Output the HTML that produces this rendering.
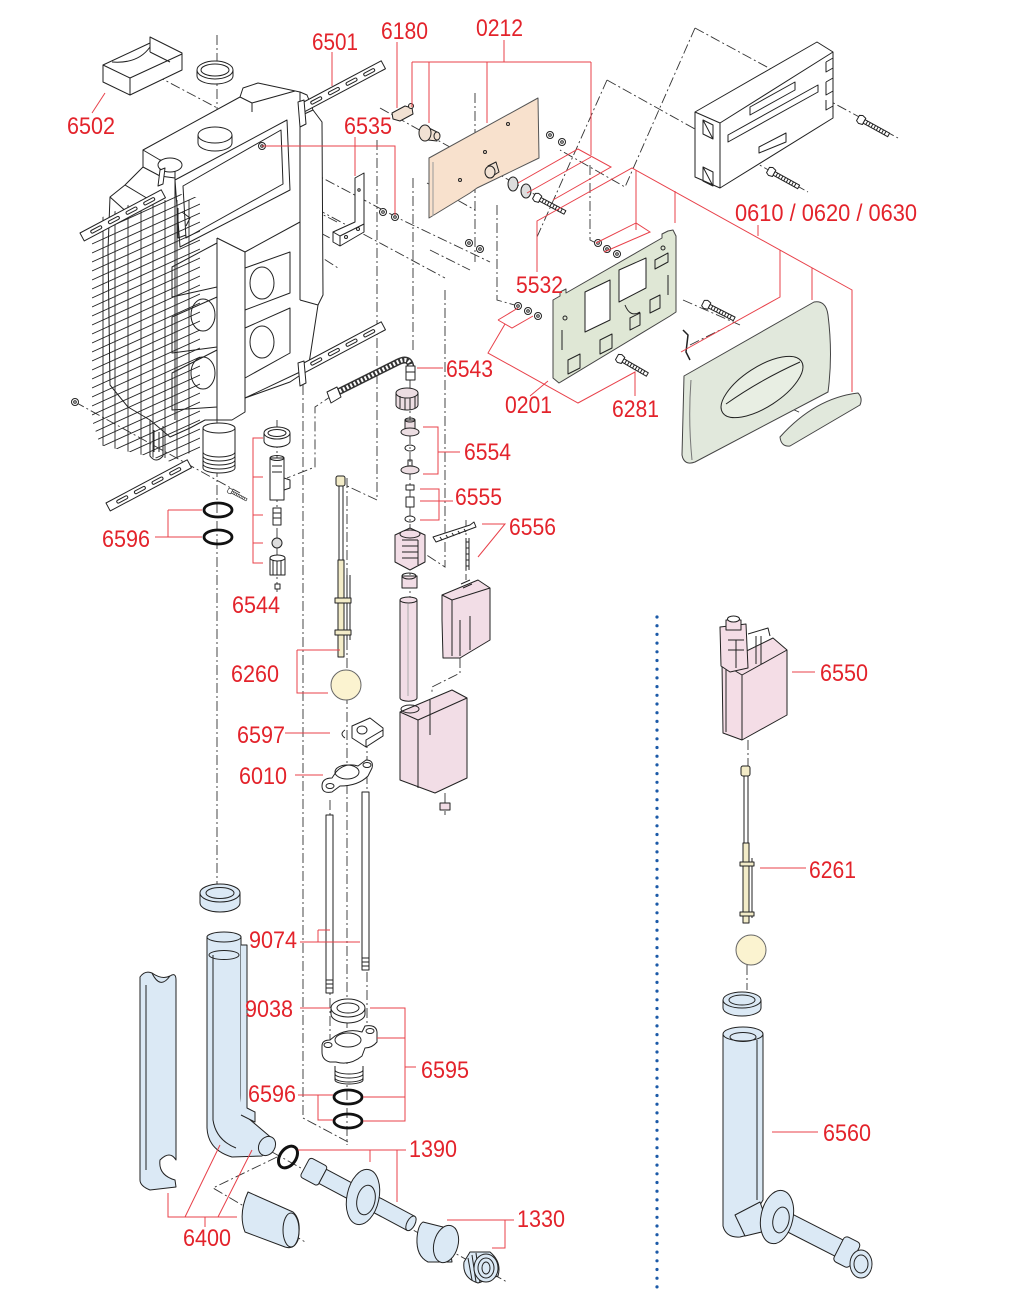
<!DOCTYPE html>
<html><head><meta charset="utf-8"><style>
html,body{margin:0;padding:0;background:#fff;}
svg{display:block;}
text{font-family:"Liberation Sans",sans-serif;font-size:24px;fill:#e3232b;}
</style></head><body>
<svg width="1032" height="1316" viewBox="0 0 1032 1316" xmlns="http://www.w3.org/2000/svg">
<defs>
<clipPath id="hc"><polygon points="92,222 160,190 200,198 200,448 172,462 100,445 92,420"/></clipPath>
<g id="scr"><path d="M0,-3 L3,-4.5 L7,-3.5 L7,3.5 L3,4.5 L0,3 Z" fill="#fff"/><rect x="7" y="-2" width="28" height="4" fill="#fff"/><path d="M10,-2V2M13,-2V2M16,-2V2M19,-2V2M22,-2V2M25,-2V2M28,-2V2M31,-2V2"/></g>
<g id="nut"><circle r="3.5" fill="#fff"/><circle r="1.3" fill="none"/></g>
<g id="strap"><rect x="0" y="0" width="92" height="9" fill="#fff"/><rect x="10" y="3" width="12" height="3" rx="1.5" fill="none"/><rect x="30" y="3" width="12" height="3" rx="1.5" fill="none"/><rect x="50" y="3" width="12" height="3" rx="1.5" fill="none"/><rect x="70" y="3" width="12" height="3" rx="1.5" fill="none"/></g>
</defs>

<!-- dash-dot construction lines -->
<g fill="none" stroke="#333" stroke-width="0.9" stroke-dasharray="10 3 2 3">
<path d="M217,35 V888"/>
<path d="M303,205 V1118 L348,1142"/>
<path d="M347,478 V1145"/>
<path d="M377,140 V500 L345,485"/>
<path d="M413,178 V352"/>
<path d="M445,290 V567 L422,552"/>
<path d="M277,420 V595"/>
<path d="M410,380 V600"/>
<path d="M330,800 V1045"/>
<path d="M367,720 V1030"/>
<path d="M475,93 V262"/>
<path d="M497,205 V300 L518,306"/>
<path d="M590,165 V240 L596,243"/>
<path d="M466,520 V580 M460,658 V673 L432,687 V693 M445,793 V815"/>
<path d="M333,395 L315,407 V467 L287,478"/>
<path d="M277,1157 L213,1188 L307,1243"/>
<path d="M272,1152 L507,1282"/>
<path d="M155,75 L240,120"/>
<path d="M262,146 L400,219 L490,262"/>
<path d="M380,108 L568,213"/>
<path d="M300,200 L445,278"/>
<path d="M273,208 L330,238"/>
<path d="M75,402 L240,493"/>
<path d="M607,80 L808,192"/>
<path d="M695,28 L898,138"/>
<path d="M695,28 L625,187 L560,150"/>
<path d="M607,80 L537,237"/>
<path d="M337,222 L310,208 V250 L338,268"/>
<path d="M195,160 V197 L240,222"/>
<path d="M427,183 L475,210 M430,250 L470,270"/>
<path d="M683,300 L740,325 M690,345 L720,330"/>
<path d="M790,408 L801,413"/>
<path d="M748,740 V770 M747,965 V990"/>
</g>

<!-- TANK -->
<g stroke="#222" stroke-width="1" fill="none" stroke-linejoin="round">
<path fill="#fff" d="M143,150 L240,97 L243,88 L258,83 L300,92 L307,95 L313,110 L322,122 L323,295 L318,305 L308,370 L290,382 L245,398 L245,412 L232,420 L205,420 L190,428 L170,437 L150,420 L128,407 L110,385 L108,250 L110,197 L125,185 L143,167 Z"/>
<path d="M143,150 L160,160 L175,160 M143,167 L160,176 L175,178 M175,160 V420 M160,160 V176"/>
<path d="M240,97 L252,103 L295,91 M252,103 V112 M300,92 V300 M313,110 L300,116"/>
<path d="M175,180 L287,120 L290,190 L180,247 Z M183,186 L281,130 L283,184 L186,238 Z"/>
<ellipse cx="215" cy="135" rx="17" ry="8" fill="#fff"/>
<path d="M198,135 V143 A17,8 0 0 0 232,143 V135"/>
<ellipse cx="170" cy="165" rx="12" ry="7" fill="#fff"/>
<path d="M217,238 V420 M245,252 V398 M245,252 L300,222 M217,238 L245,252 M300,300 L318,305 M245,398 L300,372"/>
<path d="M245,268 L290,252 L290,293 L245,310 Z M245,328 L290,308 L290,353 L245,378 Z"/>
<ellipse cx="262" cy="283" rx="12" ry="16"/>
<ellipse cx="262" cy="342" rx="12" ry="16"/>
<path d="M172,267 L217,243 L217,287 L172,297 Z M172,317 L217,297 L217,347 L172,353 Z M172,373 L217,350 L217,407 L172,410 Z"/>
<ellipse cx="203" cy="315" rx="12" ry="16"/>
<ellipse cx="203" cy="373" rx="12" ry="16"/>
<path d="M178,208 V238 L186,235 M182,212 L190,218 L186,226"/>
<path d="M150,420 V456 Q156,464 163,456 V426 M154,430 V452 M159,432 V452"/>
<path d="M125,185 L150,200 M110,197 L130,215"/>
<!-- outlet -->
<path fill="#fff" d="M203,428 V468 A16,5 0 0 0 235,468 V428"/>
<ellipse cx="219" cy="428" rx="16" ry="5" fill="#fff"/>
<path d="M203,452 A16,5 0 0 0 235,452 M203,456 A16,5 0 0 0 235,456 M203,460 A16,5 0 0 0 235,460 M203,464 A16,5 0 0 0 235,464"/>
</g>
<g clip-path="url(#hc)" stroke="#222" stroke-width="0.9" fill="none">
<path d="M92,235L200,186M92,244L200,195M92,253L200,204M92,262L200,213M92,271L200,222M92,280L200,231M92,289L200,240M92,298L200,249M92,307L200,258M92,316L200,267M92,325L200,276M92,334L200,285M92,343L200,294M92,352L200,303M92,361L200,312M92,370L200,321M92,379L200,330M92,388L200,339M92,397L200,348M92,406L200,357M92,415L200,366M92,424L200,375M92,433L200,384M92,442L200,393M92,451L200,402M92,460L200,411M92,469L200,420M92,478L200,429M92,487L200,438M92,496L200,447M92,505L200,456M92,514L200,465"/>
<path d="M103,200V458M115,200V458M128,200V458M141,200V458M153,200V458M165,200V458M177,200V458M189,200V458"/>
</g>

<g stroke="#222" stroke-width="1" fill="none" stroke-linejoin="round">
<!-- straps -->
<use href="#strap" transform="translate(300,104) rotate(-28)"/>
<path fill="#fff" d="M298,102 L304,100 L306,124 L300,127 Z"/>
<use href="#strap" transform="translate(80,233) rotate(-28)"/>
<path fill="#fff" d="M158,186 L163,184 L165,168 L160,170 Z"/>
<use href="#strap" transform="translate(300,365) rotate(-28)"/>
<path fill="#fff" d="M298,363 L304,361 L306,383 L300,386 Z"/>
<use href="#strap" transform="translate(106,503) rotate(-28)"/>
<use href="#nut" transform="translate(75,402)"/>
<use href="#scr" transform="translate(228,490) rotate(28) scale(0.6)"/>

<!-- 6502 bracket -->
<path fill="#fff" d="M103,65 L150,43 L150,37 L182,53 L182,70 L130,95 L103,82 Z"/>
<path d="M103,65 L130,78 V95 M130,78 L182,54 M112,62 Q138,64 150,47 M150,43 V52 M150,52 L170,62"/>

<!-- top ring -->
<path fill="#fff" d="M197,70 V76 A18,8 0 0 0 233,76 V70"/>
<ellipse cx="215" cy="70" rx="18" ry="9" fill="#fff"/>
<ellipse cx="215" cy="70" rx="14" ry="6"/>

<!-- 6180 -->
<path fill="#f1e1d3" d="M392,113 L405,106 L412,108 L413,114 L400,121 L393,119 Z"/>
<circle cx="411" cy="106" r="2.5" fill="#f1e1d3"/>
<!-- 0212 washer -->
<path fill="#f1e1d3" d="M427,127 L437,132 V141 L428,140 Z"/>
<ellipse cx="425" cy="133" rx="6" ry="8" fill="#f1e1d3"/>
<ellipse cx="437" cy="136" rx="3" ry="4" fill="#f1e1d3"/>
<!-- pink plate -->
<path fill="#f8e1cd" stroke="#555" d="M429,158 L538,98 L539,158 L477,188 L470,193 L429,218 Z"/>
<path d="M433,162 V216" stroke="#999"/>
<circle cx="508" cy="124" r="1.5"/><circle cx="460" cy="180" r="1.5"/><circle cx="485" cy="152" r="1.5"/>
<path fill="#f1e1d3" d="M488,166 L496,162 L499,172 L491,177 Z"/>
<ellipse cx="490" cy="172" rx="5" ry="6" fill="#f1e1d3"/>
<ellipse cx="513" cy="184" rx="5" ry="7" fill="#ddd"/>
<ellipse cx="526" cy="191" rx="5" ry="7" fill="#ddd"/>
<use href="#scr" transform="translate(534,196) rotate(28)"/>
<use href="#nut" transform="translate(550,135)"/><use href="#nut" transform="translate(562,142)"/>
<use href="#nut" transform="translate(469,243)"/><use href="#nut" transform="translate(480,249)"/>
<use href="#nut" transform="translate(383,212)"/><use href="#nut" transform="translate(395,217)"/>
<use href="#nut" transform="translate(598,243)"/><use href="#nut" transform="translate(607,249)"/><use href="#nut" transform="translate(617,254)"/>
<use href="#nut" transform="translate(518,306)"/><use href="#nut" transform="translate(528,311)"/><use href="#nut" transform="translate(538,316)"/>
<use href="#nut" transform="translate(262,146)"/>

<!-- 6535 bracket -->
<path fill="#fff" d="M355,178 L364,173 V232 L340,246 L333,242 V232 L355,222 Z"/>
<path d="M355,178 V222 M340,246 V236 L364,224 M333,232 L340,236"/>
<circle cx="346" cy="237" r="1.5"/><circle cx="358" cy="229" r="1.5"/><circle cx="359" cy="190" r="1.2"/>

<!-- box top right -->
<path fill="#fff" d="M695,112 L817,42 L833,52 L833,118 L720,188 L695,177 Z"/>
<path d="M695,112 L720,123 L833,52 M720,123 V188"/>
<path d="M703,120 L713,125 V139 L703,134 Z M703,120 L713,139 M703,167 L713,172 V186 L703,181 Z M703,167 L713,186"/>
<path d="M750,107 L795,82 V90 L750,115 Z M728,135 L818,85 V92 L728,142 Z M759,147 L786,133 V142 L759,153 Z"/>
<path d="M826,62 L833,58 M826,62 V72 L833,68 M826,82 L833,78 M826,82 V95 L833,91 M826,100 V110 L833,106"/>
<use href="#scr" transform="translate(858,118) rotate(29)"/>
<use href="#scr" transform="translate(768,170) rotate(29)"/>

<!-- 0201 green plate -->
<path fill="#dfe7d5" stroke="#444" d="M553,300 L560,296 V292 L566,289 V293 L662,238 V234 L668,231 L673,230 L676,236 V312 L670,316 L559,383 L553,378 Z"/>
<path fill="#fff" d="M585,292 L610,280 V320 L585,332 Z M619,270 L646,258 V288 L619,302 Z"/>
<path d="M600,340 L612,334 V348 L600,354 Z M630,318 L640,313 V325 L630,330 Z M650,300 L660,295 V308 L650,313 Z M568,360 L580,354 V368 L568,374 Z M562,330 V350 M655,260 L668,253 V262 L655,269 Z M668,275 V295 M625,305 Q630,318 640,312"/>
<circle cx="565" cy="318" r="2"/><circle cx="663" cy="248" r="2"/>

<!-- flush plate -->
<path fill="#e1e8dc" stroke="#444" d="M684,376 L814,302 Q826,300 828,315 Q833,355 828,392 L695,462 Q684,466 682,455 Z"/>
<path d="M691,380 Q688,420 692,460" stroke="#777"/>
<ellipse cx="762" cy="387" rx="47" ry="20" transform="rotate(-33 762 387)" fill="#e8eee3"/>
<path d="M726,404 Q760,380 800,362"/>
<path fill="#e1e8dc" stroke="#444" d="M780,437 Q815,398 858,393 Q863,398 860,405 L790,446 Q781,447 780,437 Z"/>
<path d="M683,330 L688,335 L686,352 L690,360" stroke-width="1.5"/>
<use href="#scr" transform="translate(703,303) rotate(27)"/>
<use href="#scr" transform="translate(617,357) rotate(30)"/>

<!-- hose 6543 -->
<path d="M336,393 L398,362 Q410,356 411,368" stroke="#333" stroke-width="7"/>
<path d="M336,393 L398,362 Q410,356 411,368" stroke="#fff" stroke-width="4" stroke-dasharray="2 2"/>
<path fill="#fff" d="M327,392 L337,387 L341,397 L331,403 Z"/>
<path fill="#fff" d="M406,366 H415 V380 H406 Z M406,372 H415"/>
<!-- nut -->
<path fill="#ecdde2" d="M396,393 V405 A11,5 0 0 0 418,405 V393"/>
<ellipse cx="407" cy="393" rx="11" ry="5" fill="#ecdde2"/>
<path d="M400,396 V408 M405,398 V410 M410,398 V410 M415,396 V408"/>
<!-- 6554 -->
<path fill="#ecdde2" d="M405,420 H415 V430 H405 Z"/>
<ellipse cx="410" cy="432" rx="9" ry="4" fill="#ecdde2"/>
<ellipse cx="410" cy="420" rx="5" ry="2"/>
<ellipse cx="410" cy="448" rx="5" ry="3"/>
<path d="M408,460 H412 V468 H408 Z"/>
<ellipse cx="410" cy="470" rx="9" ry="4" fill="#ecdde2"/>
<!-- 6555 -->
<rect x="406" y="485" width="8" height="5" fill="#fff"/>
<path fill="#fff" d="M406,497 H414 V507 H406 Z"/>
<ellipse cx="410" cy="519" rx="5" ry="3"/>
<!-- valve body -->
<path fill="#f2dde6" d="M395,535 L410,528 L425,535 V562 L410,570 L395,562 Z"/>
<ellipse cx="410" cy="534" rx="10" ry="4" fill="#f2dde6"/>
<path d="M402,540 H418 M402,546 H418 M402,552 H418 M402,558 H418 M418,540 V565"/>
<path fill="#fff" d="M433,537 L470,525 L474,522 L476,527 L436,542 Z"/>
<path d="M440,537 L442,540 M446,535 L448,538 M452,533 L454,536 M458,531 L460,534 M464,529 L466,532"/>
<path d="M466,538 V570 M469,538 V570 M466,542 H469 M466,548 H469 M466,554 H469 M466,560 H469 M466,566 H469"/>
<path fill="#f2dde6" d="M402,576 H417 V588 H402 Z"/>
<ellipse cx="409" cy="576" rx="7" ry="3"/>
<!-- tube -->
<path fill="#f2dde6" d="M400,600 V698 A8,3 0 0 0 417,698 V600"/>
<ellipse cx="408.5" cy="600" rx="8.5" ry="3" fill="#f2dde6"/>
<path d="M408,604 V696" stroke="#aaa"/>
<!-- upper pink box -->
<path fill="#f2dde6" d="M442,595 L478,580 L490,588 V640 L460,658 L443,658 L442,620 Z"/>
<path d="M442,595 L452,600 L490,588 M452,600 V656 M460,620 V656 M470,616 V650"/>
<path d="M461,584 L470,580 M463,588 L472,584"/>
<!-- lower pink box -->
<path fill="#f2dde6" d="M400,712 L452,690 L467,698 V778 L435,793 L400,780 Z"/>
<path d="M400,712 L418,720 L467,698 M418,720 V788 M430,700 V735"/>
<ellipse cx="410" cy="709" rx="9" ry="4"/>
<path fill="#f2dde6" d="M440,803 L450,803 L450,810 L440,810 Z"/>

<!-- 6544 -->
<path fill="#fff" d="M264,433 V441 A13,6 0 0 0 290,441 V433"/>
<ellipse cx="277" cy="433" rx="13" ry="6" fill="#fff"/>
<ellipse cx="277" cy="433" rx="9" ry="3.5"/>
<path fill="#fff" d="M270,458 H284 V500 H270 Z"/>
<ellipse cx="277" cy="458" rx="7" ry="2.5"/>
<path fill="#fff" d="M284,478 L290,480 V488 L284,490 Z"/>
<path d="M272,466 H282 M272,472 H282"/>
<path fill="#fff" d="M273,508 H281 V525 H273 Z M273,513 H281 M273,518 H281"/>
<ellipse cx="277" cy="543" rx="5" ry="5" fill="#ddd"/>
<path fill="#fff" d="M270,558 H285 V575 H270 Z M273,558 V575 M277,558 V575 M281,558 V575"/>
<ellipse cx="277.5" cy="558" rx="7.5" ry="3" fill="#fff"/>
<rect x="275" y="584" width="5" height="5" fill="#fff"/>
<ellipse cx="218" cy="510" rx="14" ry="7" stroke="#111" stroke-width="2.8"/>
<ellipse cx="218" cy="537" rx="14" ry="7" stroke="#111" stroke-width="2.8"/>

<!-- 6260 rod -->
<rect x="336" y="476" width="9" height="10" rx="2" fill="#f3ecc8"/>
<path d="M339,486 V560 M343,486 V560"/>
<rect x="338" y="560" width="6" height="97" fill="#f3ecc8"/>
<path d="M347,575 V640 M350,575 V640"/>
<rect x="335" y="598" width="16" height="5" fill="#f3ecc8"/>
<rect x="335" y="630" width="16" height="5" fill="#f3ecc8"/>
<circle cx="346" cy="685" r="15" fill="#fbf3d0" stroke="#666"/>
<!-- 6597 -->
<path fill="#fff" d="M352,726 L370,718 L383,728 V736 L366,747 L352,738 Z"/>
<ellipse cx="362" cy="730" rx="5" ry="4"/>
<path d="M345,730 Q339,734 345,738 M366,747 V740 L383,730"/>
<!-- 6010 -->
<path fill="#fff" d="M322,786 Q322,778 332,778 L336,772 Q345,762 358,766 L366,760 Q374,760 372,768 L368,776 Q358,786 340,786 L332,792 Q322,794 322,786 Z"/>
<ellipse cx="347" cy="772" rx="12" ry="7"/>
<ellipse cx="330" cy="786" rx="4" ry="2.5"/>
<ellipse cx="367" cy="765" rx="4" ry="2.5"/>
<!-- 9074 -->
<path fill="#fff" d="M326,815 H333 V993 H326 Z M362,792 H369 V970 H362 Z"/>
<path d="M326,980 H333 M326,984 H333 M326,988 H333 M362,958 H369 M362,962 H369 M362,966 H369"/>
<!-- 9038 -->
<path fill="#fff" d="M331,1008 V1014 A17,9 0 0 0 365,1014 V1008"/>
<ellipse cx="348" cy="1008" rx="17" ry="9" fill="#fff"/>
<ellipse cx="348" cy="1008" rx="11" ry="5"/>
<!-- 6595 -->
<path fill="#fff" d="M335,1066 V1080 A14,4 0 0 0 363,1080 V1066"/>
<path d="M335,1070 A14,4 0 0 0 363,1070 M335,1074 A14,4 0 0 0 363,1074 M335,1078 A14,4 0 0 0 363,1078"/>
<path fill="#fff" d="M322,1046 Q322,1040 330,1040 L335,1036 Q348,1028 362,1032 L365,1026 Q376,1024 377,1032 L377,1042 Q372,1048 365,1048 L362,1056 Q350,1066 336,1062 L330,1062 Q322,1060 322,1052 Z"/>
<ellipse cx="348" cy="1040" rx="13" ry="7"/>
<ellipse cx="328" cy="1045" rx="4" ry="2.5"/>
<ellipse cx="370" cy="1031" rx="4" ry="2.5"/>
<ellipse cx="348" cy="1097" rx="14" ry="7" stroke="#111" stroke-width="2.8"/>
<ellipse cx="348" cy="1121" rx="14" ry="7" stroke="#111" stroke-width="2.8"/>

<!-- 6400 -->
<path fill="#dbe9f5" d="M200,893 V903 A20,9 0 0 0 240,903 V893"/>
<ellipse cx="220" cy="893" rx="20" ry="9" fill="#dbe9f5"/>
<ellipse cx="220" cy="893" rx="14" ry="5.5"/>
<path fill="#dbe9f5" d="M207,937 V1128 Q208,1150 232,1157 L262,1156 L274,1140 L248,1118 Q241,1110 241,1095 V937 Z"/>
<path fill="#dbe9f5" d="M241,945 H247 V1108 L255,1112 V1122 L241,1115"/>
<ellipse cx="224" cy="937" rx="17" ry="5" fill="#dbe9f5"/>
<ellipse cx="224" cy="955" rx="15" ry="4.5"/>
<path d="M213,955 V1120 Q216,1140 236,1148"/>
<ellipse cx="267" cy="1146" rx="8" ry="10" transform="rotate(30 267 1146)" fill="#dbe9f5"/>
<path fill="#dbe9f5" d="M140,977 Q145,970 152,973 Q162,980 170,976 Q176,972 176,980 V1160 Q170,1150 160,1160 Q158,1175 175,1180 L176,1187 L150,1190 Q140,1186 140,1180 Z"/>
<path d="M152,973 Q160,990 170,976 M146,985 V1170"/>
<path fill="#dbe9f5" d="M248,1192 L293,1212 Q302,1220 298,1240 Q294,1250 285,1247 L245,1232 Q238,1214 248,1192 Z"/>
<ellipse cx="291" cy="1230" rx="8" ry="17" fill="#dbe9f5"/>
<ellipse cx="288" cy="1157" rx="8" ry="12" transform="rotate(35 288 1157)" stroke="#111" stroke-width="3"/>
<!-- 1390 pipe -->
<g transform="translate(305,1167) rotate(28)">
<rect x="0" y="-11" width="20" height="22" rx="3" fill="#dbe9f5"/>
<rect x="20" y="-8" width="100" height="16" fill="#dbe9f5"/>
<ellipse cx="120" cy="0" rx="4" ry="8" fill="#dbe9f5"/>
</g>
<ellipse cx="363" cy="1197" rx="16" ry="28" transform="rotate(12 363 1197)" fill="#dbe9f5"/>
<ellipse cx="366" cy="1200" rx="9" ry="15" transform="rotate(12 366 1200)"/>
<!-- 1330 -->
<path fill="#dbe9f5" d="M423,1222 L447,1228 L452,1262 L428,1262 Q416,1256 417,1238 Q418,1225 423,1222 Z"/>
<ellipse cx="446" cy="1244" rx="12" ry="19" transform="rotate(15 446 1244)" fill="#dbe9f5"/>
<path fill="#dbe9f5" d="M470,1252 L490,1252 Q502,1262 498,1276 L478,1283 Q462,1278 464,1262 Z"/>
<path d="M468,1258 L472,1280 M472,1255 L476,1282 M476,1253 L480,1283"/>
<ellipse cx="486" cy="1268" rx="12" ry="14" fill="#dbe9f5"/>
<ellipse cx="486" cy="1268" rx="8" ry="10"/>
<ellipse cx="486" cy="1268" rx="4" ry="6"/>

<!-- right panel: 6550 -->
<path fill="#f4dde6" d="M722,663 L773,638 L787,650 V715 L742,740 L723,733 Z"/>
<path d="M722,663 L742,675 L787,650 M742,675 V740 M726,668 V732"/>
<path fill="#f4dde6" d="M720,627 L746,624 L748,668 L730,672 L721,666 Z"/>
<path fill="#f4dde6" d="M726,620 H741 V630 H726 Z"/>
<ellipse cx="733.5" cy="619" rx="6" ry="3" fill="#fff"/>
<path d="M728,640 H744 M728,650 H744 M736,640 V668"/>
<path d="M748,634 L768,628 L770,636 M756,636 V664 M761,636 V664"/>
<!-- 6261 -->
<rect x="741" y="766" width="9" height="10" rx="2" fill="#f3ecc8"/>
<path d="M744,776 V843 M748,776 V843"/>
<rect x="743" y="843" width="6" height="80" fill="#f3ecc8"/>
<path d="M752,858 V918"/>
<rect x="740" y="862" width="14" height="4" fill="#f3ecc8"/>
<rect x="740" y="912" width="14" height="4" fill="#f3ecc8"/>
<circle cx="751" cy="950" r="15" fill="#fbf3d0" stroke="#666"/>
<!-- 6560 -->
<path fill="#dbe9f5" d="M723,1000 V1008 A19,8 0 0 0 761,1008 V1000"/>
<ellipse cx="742" cy="1000" rx="19" ry="8" fill="#dbe9f5"/>
<ellipse cx="742" cy="1000" rx="13" ry="5"/>
<path fill="#dbe9f5" d="M723,1034 V1226 Q726,1238 740,1237 L760,1232 L760,1205 L763,1200 V1034 Z"/>
<ellipse cx="743" cy="1034" rx="20" ry="7" fill="#dbe9f5"/>
<ellipse cx="743" cy="1037" rx="13" ry="4.5"/>
<path d="M757,1040 V1200"/>
<g transform="translate(780,1218) rotate(27)">
<rect x="0" y="-9" width="82" height="18" fill="#dbe9f5"/>
<rect x="66" y="-14" width="18" height="28" rx="4" fill="#dbe9f5"/>
</g>
<path fill="#dbe9f5" d="M735,1215 L760,1202 L770,1230 L745,1236 Z"/>
<ellipse cx="777" cy="1217" rx="16" ry="27" transform="rotate(12 777 1217)" fill="#dbe9f5"/>
<ellipse cx="781" cy="1220" rx="8" ry="13" transform="rotate(12 781 1220)"/>
<ellipse cx="861" cy="1264" rx="11" ry="14" fill="#dbe9f5"/>
<ellipse cx="861" cy="1264" rx="7" ry="9"/>
</g>

<!-- blue dotted separator -->
<path d="M657,617 V1289" stroke="#1c5aa8" stroke-width="3.2" stroke-linecap="round" stroke-dasharray="0 8.7" fill="none"/>

<!-- red leader lines -->
<g fill="none" stroke="#e8414a" stroke-width="1">
<path d="M92,113 L105,93"/>
<path d="M332,52 V86"/>
<path d="M397,42 V108"/>
<path d="M504,40 V62 M412,62 H591 M412,62 V107 M429,62 V123 M487,62 V123 M591,62 V155"/>
<path d="M355,137 V176 M262,146 H395 V215"/>
<path d="M518,183 L578,149 L611,167 L553,200 M527,193 L591,157"/>
<path d="M537,272 V221 L632,168 L852,290 V392 M636,170 V230 M596,243 L636,223 L650,232 L604,252 M675,191 V223 M758,225 V236 M780,250 V297 L681,352 M812,268 V300"/>
<path d="M498,320 L518,308 M498,320 L512,328 L533,316 M505,324 L488,353 L578,403 L635,372 V396 M530,396 L548,381"/>
<path d="M417,368 H443"/>
<path d="M423,427 H438 V474 H423 M438,452 H460"/>
<path d="M420,489 H439 V520 H420 M420,501 H453"/>
<path d="M482,524 H505 L478,557"/>
<path d="M155,537 H168 M168,510 V537 M168,510 H202 M168,537 H202"/>
<path d="M263,438 H253 V563 H263 M253,477 H263 M253,515 H263 M253,543 H263"/>
<path d="M297,650 H340 M297,650 V693 H328"/>
<path d="M285,733 H330"/>
<path d="M295,775 H323"/>
<path d="M300,942 H360 M318,930 V942 M318,930 H330"/>
<path d="M300,1008 H330"/>
<path d="M370,1008 H405 V1121 H363 M377,1038 H405 M363,1097 H405 M405,1067 H416"/>
<path d="M298,1095 H333 M318,1095 V1120 H333"/>
<path d="M298,1150 H406 M370,1150 V1162 M397,1150 V1202"/>
<path d="M447,1220 H514 M505,1220 V1248 H492"/>
<path d="M168,1193 V1217 H237 M185,1217 L220,1145 M218,1217 L252,1150 M205,1217 V1227"/>
<path d="M792,672 H815"/>
<path d="M760,868 H806"/>
<path d="M772,1132 H818"/>
</g>

<!-- labels -->
<g>
<text x="67" y="134" textLength="48" lengthAdjust="spacingAndGlyphs">6502</text>
<text x="312" y="50" textLength="46" lengthAdjust="spacingAndGlyphs">6501</text>
<text x="381" y="39" textLength="47" lengthAdjust="spacingAndGlyphs">6180</text>
<text x="476" y="36" textLength="47" lengthAdjust="spacingAndGlyphs">0212</text>
<text x="344" y="134" textLength="48" lengthAdjust="spacingAndGlyphs">6535</text>
<text x="735" y="221" textLength="182" lengthAdjust="spacingAndGlyphs">0610 / 0620 / 0630</text>
<text x="516" y="293" textLength="47" lengthAdjust="spacingAndGlyphs">5532</text>
<text x="446" y="377" textLength="47" lengthAdjust="spacingAndGlyphs">6543</text>
<text x="505" y="413" textLength="47" lengthAdjust="spacingAndGlyphs">0201</text>
<text x="612" y="417" textLength="47" lengthAdjust="spacingAndGlyphs">6281</text>
<text x="464" y="460" textLength="47" lengthAdjust="spacingAndGlyphs">6554</text>
<text x="455" y="505" textLength="47" lengthAdjust="spacingAndGlyphs">6555</text>
<text x="509" y="535" textLength="47" lengthAdjust="spacingAndGlyphs">6556</text>
<text x="102" y="547" textLength="48" lengthAdjust="spacingAndGlyphs">6596</text>
<text x="232" y="613" textLength="48" lengthAdjust="spacingAndGlyphs">6544</text>
<text x="231" y="682" textLength="48" lengthAdjust="spacingAndGlyphs">6260</text>
<text x="820" y="681" textLength="48" lengthAdjust="spacingAndGlyphs">6550</text>
<text x="237" y="743" textLength="48" lengthAdjust="spacingAndGlyphs">6597</text>
<text x="239" y="784" textLength="48" lengthAdjust="spacingAndGlyphs">6010</text>
<text x="809" y="878" textLength="47" lengthAdjust="spacingAndGlyphs">6261</text>
<text x="249" y="948" textLength="48" lengthAdjust="spacingAndGlyphs">9074</text>
<text x="245" y="1017" textLength="48" lengthAdjust="spacingAndGlyphs">9038</text>
<text x="421" y="1078" textLength="48" lengthAdjust="spacingAndGlyphs">6595</text>
<text x="248" y="1102" textLength="48" lengthAdjust="spacingAndGlyphs">6596</text>
<text x="409" y="1157" textLength="48" lengthAdjust="spacingAndGlyphs">1390</text>
<text x="823" y="1141" textLength="48" lengthAdjust="spacingAndGlyphs">6560</text>
<text x="517" y="1227" textLength="48" lengthAdjust="spacingAndGlyphs">1330</text>
<text x="183" y="1246" textLength="48" lengthAdjust="spacingAndGlyphs">6400</text>
</g>
</svg>
</body></html>
